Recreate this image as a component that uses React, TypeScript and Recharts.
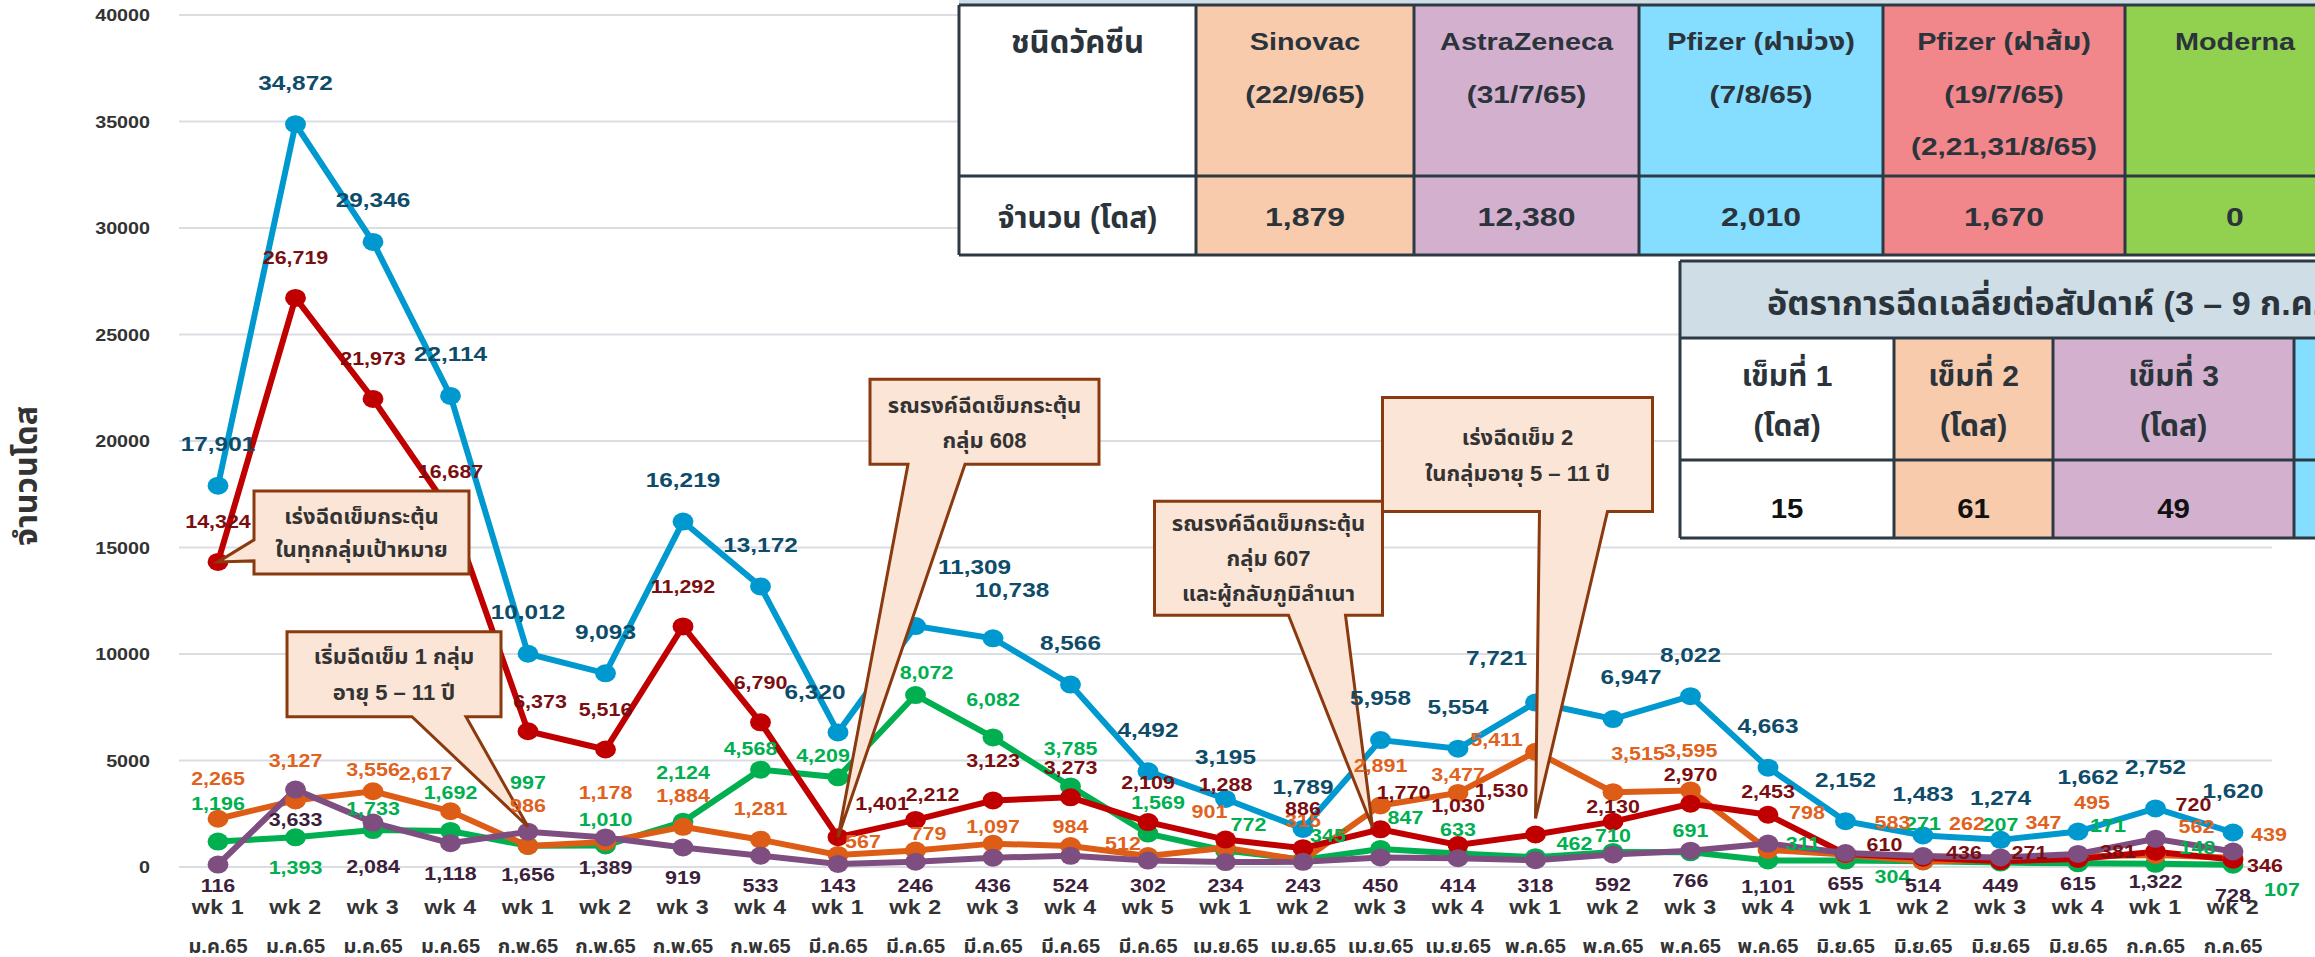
import React from "react";
import {
  LineChart,
  Line,
  XAxis,
  YAxis,
  CartesianGrid,
  LabelList,
  ReferenceDot,
  Label,
} from "recharts";

const W = 2315;
const H = 957;
const FONT = "'Liberation Sans', 'Noto Sans Thai', 'DejaVu Sans', sans-serif";
// the source picture is stretched sideways a little, so text and dots are too
const SX = 1.16;

// categories (week + month)
const weeks = [
  "wk 1", "wk 2", "wk 3", "wk 4",
  "wk 1", "wk 2", "wk 3", "wk 4",
  "wk 1", "wk 2", "wk 3", "wk 4", "wk 5",
  "wk 1", "wk 2", "wk 3", "wk 4",
  "wk 1", "wk 2", "wk 3", "wk 4",
  "wk 1", "wk 2", "wk 3", "wk 4",
  "wk 1", "wk 2",
];
const months = [
  "ม.ค.65", "ม.ค.65", "ม.ค.65", "ม.ค.65",
  "ก.พ.65", "ก.พ.65", "ก.พ.65", "ก.พ.65",
  "มี.ค.65", "มี.ค.65", "มี.ค.65", "มี.ค.65", "มี.ค.65",
  "เม.ย.65", "เม.ย.65", "เม.ย.65", "เม.ย.65",
  "พ.ค.65", "พ.ค.65", "พ.ค.65", "พ.ค.65",
  "มิ.ย.65", "มิ.ย.65", "มิ.ย.65", "มิ.ย.65",
  "ก.ค.65", "ก.ค.65",
];

// series values
const total = [17901, 34872, 29346, 22114, 10012, 9093, 16219, 13172, 6320, 11309, 10738, 8566, 4492, 3195, 1789, 5958, 5554, 7721, 6947, 8022, 4663, 2152, 1483, 1274, 1662, 2752, 1620];
const dose1 = [1196, 1393, 1733, 1692, 997, 1010, 2124, 4568, 4209, 8072, 6082, 3785, 1569, 772, 345, 847, 633, 462, 710, 691, 311, 304, 271, 207, 171, 148, 107];
const dose2 = [2265, 3127, 3556, 2617, 986, 1178, 1884, 1281, 567, 779, 1097, 984, 512, 901, 315, 2891, 3477, 5411, 3515, 3595, 798, 583, 262, 347, 495, 562, 439];
const dose3 = [14324, 26719, 21973, 16687, 6373, 5516, 11292, 6790, 1401, 2212, 3123, 3273, 2109, 1288, 886, 1770, 1030, 1530, 2130, 2970, 2453, 610, 436, 271, 381, 720, 346];
const dose4 = [116, 3633, 2084, 1118, 1656, 1389, 919, 533, 143, 246, 436, 524, 302, 234, 243, 450, 414, 318, 592, 766, 1101, 655, 514, 449, 615, 1322, 728];

const yTicks = [0, 5000, 10000, 15000, 20000, 25000, 30000, 35000, 40000];

// vaccine stock table
const vaccineHead = "ชนิดวัคซีน";
const vaccineRowHead = "จำนวน (โดส)";
const vaccineNames = ["Sinovac", "AstraZeneca", "Pfizer (ฝาม่วง)", "Pfizer (ฝาส้ม)", "Moderna"];
const vaccineDates = [["(22/9/65)"], ["(31/7/65)"], ["(7/8/65)"], ["(19/7/65)", "(2,21,31/8/65)"], []];
const vaccineDoses = [1879, 12380, 2010, 1670, 0];

// weekly rate table
const rateTitle = "อัตราการฉีดเฉลี่ยต่อสัปดาห์ (3 – 9 ก.ค. 65)";
const rateHeads = ["เข็มที่ 1", "เข็มที่ 2", "เข็มที่ 3", ""];
const rateValues = [15, 61, 49];

const data = weeks.map((w, i) => ({
  id: `${months[i]}|${w}`,
  total: total[i],
  dose1: dose1[i],
  dose2: dose2[i],
  dose3: dose3[i],
  dose4: dose4[i],
}));

const fmt = (v: number) => Number(v).toLocaleString("en-US");

const series = [
  { key: "total", line: "#0099CF", label: "#0E4C6A", size: 21, dy: -42 },
  { key: "dose1", line: "#00B050", label: "#00B050", size: 18.5, dy: -38 },
  { key: "dose2", line: "#DE5D16", label: "#E0621C", size: 18.5, dy: -40 },
  { key: "dose3", line: "#C00000", label: "#7A0E10", size: 18.5, dy: -40 },
  { key: "dose4", line: "#7E4E80", label: "#3C1F3B", size: 18.5, dy: 30 },
];

// label placement tweaks [dx, dy] relative to the point, as in the source
const nudges: Record<string, Record<number, [number, number]>> = {
  total: { 8: [-23, -41], 9: [59, -60], 10: [19, -49], 17: [-39, -45], 18: [18, -42], 24: [10, -55] },
  dose3: { 4: [12, -30], 8: [44, -34], 9: [17, -25], 11: [0, -30], 13: [0, -55], 15: [23, -37], 17: [-34, -44], 18: [0, -15], 19: [0, -29], 20: [0, -23], 21: [39, -9], 22: [41, -5], 23: [29, -9], 24: [40, -7], 25: [38, -47], 26: [32, 6] },
  dose2: { 2: [0, -22], 3: [-25, -38], 5: [0, -49], 6: [0, -31], 7: [0, -31], 8: [25, -13], 9: [13, -17], 10: [0, -17], 11: [0, -20], 12: [-25, -13], 13: [-16, -36], 16: [0, -18], 17: [-39, -12], 18: [25, -39], 20: [39, -37], 21: [47, -32], 22: [44, -38], 23: [43, -37], 24: [14, -54], 25: [41, -28], 26: [36, -23] },
  dose1: { 1: [0, 30], 2: [0, -22], 4: [0, -63], 5: [0, -26], 6: [0, -49], 7: [-10, -21], 8: [-15, -22], 9: [11, -23], 12: [10, -31], 13: [23, -26], 14: [25, -24], 15: [25, -31], 16: [0, -24], 17: [39, -14], 18: [0, -16], 19: [0, -22], 20: [35, -17], 21: [47, 16], 24: [30, -38], 25: [42, -16], 26: [49, 25] },
  dose4: { 2: [0, 44], 4: [0, 43], 20: [0, 43], 25: [0, 43], 26: [0, 44] },
};

const callouts = [
  { at: 0, values: dose3, lines: ["เร่งฉีดเข็มกระตุ้น", "ในทุกกลุ่มเป้าหมาย"], dx: 36, dy: -71, w: 215, h: 83, side: "left", base: [49, 70], first: 26, gap: 33, tipDx: 0, tipDy: 0 },
  { at: 4, values: dose4, lines: ["เริ่มฉีดเข็ม 1 กลุ่ม", "อายุ 5 – 11 ปี"], dx: -241, dy: -200, w: 214, h: 85, side: "bottom", base: [125, 179], first: 25, gap: 36, tipDx: 0, tipDy: -5 },
  { at: 8, values: dose3, lines: ["รณรงค์ฉีดเข็มกระตุ้น", "กลุ่ม 608"], dx: 32, dy: -458, w: 229, h: 85, side: "bottom", base: [38, 95], first: 26, gap: 35, tipDx: 0, tipDy: 0 },
  { at: 15, values: dose3, lines: ["รณรงค์ฉีดเข็มกระตุ้น", "กลุ่ม 607", "และผู้กลับภูมิลำเนา"], dx: -226, dy: -328, w: 228, h: 114, side: "bottom", base: [134, 191], first: 22, gap: 35, tipDx: -8, tipDy: -2 },
  { at: 17, values: dose3, lines: ["เร่งฉีดเข็ม 2", "ในกลุ่มอายุ 5 – 11 ปี"], dx: -153, dy: -437, w: 270, h: 114, side: "bottom", base: [157, 225], first: 40, gap: 36, tipDx: 0, tipDy: -16 },
];

// text drawn with a sideways stretch about its anchor point
const SText = ({ x, y, sx = SX, children, ...rest }: any) => (
  <text transform={`translate(${x} ${y}) scale(${sx} 1)`} x={0} y={0} fontFamily={FONT} {...rest}>
    {children}
  </text>
);

const XTick = (props: any) => {
  const { x, y, payload } = props;
  const [month, week] = String(payload.value).split("|");
  return (
    <g>
      <SText x={x} y={y + 40} textAnchor="middle" dominantBaseline="central" fontSize={20} fontWeight={700} fill="#333" letterSpacing={0.5}>
        {week}
      </SText>
      <SText x={x} y={y + 79} sx={1} textAnchor="middle" dominantBaseline="central" fontSize={20} fontWeight={700} fill="#333">
        {month}
      </SText>
    </g>
  );
};

const YTick = (props: any) => (
  <SText x={props.x} y={props.y} textAnchor="end" dominantBaseline="central" fontSize={17} fontWeight={700} fill="#333">
    {props.payload.value}
  </SText>
);

const makeLabel = (key: string, color: string, size: number, dy: number) => (p: any) => {
  const n = nudges[key][p.index];
  const x = n ? p.x + n[0] : p.x;
  const y = n ? p.y + n[1] : dy > 0 ? Math.min(p.y + dy, 886) : p.y + dy;
  return (
    <SText key={p.index} x={x} y={y} textAnchor="middle" dominantBaseline="central" fontSize={size} fontWeight={700} fill={color}>
      {fmt(p.value)}
    </SText>
  );
};

const makeDot = (color: string) => (p: any) => (
  <ellipse key={p.index} cx={p.cx} cy={p.cy} rx={9 * SX} ry={9} fill={color} />
);

const Callout = ({ cx, cy, spec }: any) => {
  const tx = cx + spec.tipDx;
  const ty = cy + spec.tipDy;
  const x0 = cx + spec.dx;
  const y0 = cy + spec.dy;
  const x1 = x0 + spec.w;
  const y1 = y0 + spec.h;
  const d =
    spec.side === "left"
      ? `M${x0},${y0} H${x1} V${y1} H${x0} V${y0 + spec.base[1]} L${tx},${ty} L${x0},${y0 + spec.base[0]} Z`
      : `M${x0},${y0} H${x1} V${y1} H${x0 + spec.base[1]} L${tx},${ty} L${x0 + spec.base[0]},${y1} H${x0} Z`;
  return (
    <g>
      <path d={d} fill="#FBE5D6" stroke="#8B3A10" strokeWidth={3} />
      {spec.lines.map((t: string, i: number) => (
        <text key={i} x={(x0 + x1) / 2} y={y0 + spec.first + i * spec.gap} textAnchor="middle" dominantBaseline="central" fontSize={22} fontWeight={700} fill="#333" fontFamily={FONT}>
          {t}
        </text>
      ))}
    </g>
  );
};

// simple bordered grid of cells for the overlay tables
const TableGrid = ({ xs, ys, fills }: { xs: number[]; ys: number[]; fills: string[][] }) => (
  <g>
    {ys.slice(0, -1).map((y, r) =>
      xs.slice(0, -1).map((x, c) => (
        <rect key={`${r}-${c}`} x={x} y={y} width={xs[c + 1] - x} height={ys[r + 1] - y} fill={fills[r][c]} />
      ))
    )}
    {xs.map((x, i) => (
      <line key={`v${i}`} x1={x} x2={x} y1={ys[0]} y2={ys[ys.length - 1]} stroke="#2D3A44" strokeWidth={3} />
    ))}
    {ys.map((y, i) => (
      <line key={`h${i}`} x1={xs[0]} x2={xs[xs.length - 1]} y1={y} y2={y} stroke="#2D3A44" strokeWidth={3} />
    ))}
  </g>
);

const Tables = () => {
  const t1x = [959, 1196, 1414, 1639, 1883, 2125, 2345];
  const t1y = [5, 176, 255];
  const t1fill = ["#FFFFFF", "#F8CBAD", "#D4B0CF", "#85DEFF", "#F1878A", "#92D050"];
  const t2x = [1680, 1894, 2053, 2294, 2500];
  const t2y = [338, 460, 538];
  const t2fill = ["#FFFFFF", "#F8CBAD", "#D4B0CF", "#85DEFF"];
  const txt = { fontWeight: 700, textAnchor: "middle" as const, dominantBaseline: "central" as const, fill: "#2B333B" };
  const mid = (a: number[], i: number) => (a[i] + a[i + 1]) / 2;
  return (
    <svg width={W} height={H} style={{ position: "absolute", left: 0, top: 0, pointerEvents: "none" }}>
      {/* vaccine table */}
      <rect x={959} y={-20} width={1400} height={25} fill="#CFDDE6" />
      <TableGrid xs={t1x} ys={t1y} fills={[t1fill, t1fill]} />
      <SText {...txt} sx={1} x={mid(t1x, 0)} y={42} fontSize={31}>{vaccineHead}</SText>
      <SText {...txt} sx={1} x={mid(t1x, 0)} y={217} fontSize={30}>{vaccineRowHead}</SText>
      {vaccineNames.map((n, i) => (
        <g key={n}>
          <SText {...txt} sx={1.2} x={mid(t1x, i + 1)} y={42} fontSize={24}>{n}</SText>
          {vaccineDates[i].map((d, j) => (
            <SText key={d} {...txt} sx={1.3} x={mid(t1x, i + 1)} y={95 + j * 52} fontSize={23}>{d}</SText>
          ))}
          <SText {...txt} sx={1.28} x={mid(t1x, i + 1)} y={217} fontSize={25}>{fmt(vaccineDoses[i])}</SText>
        </g>
      ))}

      {/* weekly rate table */}
      <rect x={1680} y={261} width={820} height={77} fill="#CFDDE6" />
      <line x1={1680} x2={2500} y1={261} y2={261} stroke="#2D3A44" strokeWidth={3} />
      <line x1={1680} x2={1680} y1={261} y2={338} stroke="#2D3A44" strokeWidth={3} />
      <SText x={1767} y={303} sx={1} fontWeight={700} fontSize={34} fill="#2B333B" dominantBaseline="central">{rateTitle}</SText>
      <TableGrid xs={t2x} ys={t2y} fills={[t2fill, t2fill]} />
      {rateHeads.map((h, i) =>
        h ? (
          <g key={i}>
            <SText {...txt} sx={1} x={mid(t2x, i)} y={375} fontSize={30}>{h}</SText>
            <SText {...txt} sx={1} x={mid(t2x, i)} y={425} fontSize={30}>(โดส)</SText>
          </g>
        ) : null
      )}
      {rateValues.map((v, i) => (
        <SText key={i} {...txt} sx={1.05} x={mid(t2x, i)} y={508} fontSize={28} fill="#111">{fmt(v)}</SText>
      ))}
    </svg>
  );
};

export default function App() {
  return (
    <div style={{ position: "absolute", left: 0, top: 0, width: W, height: H, overflow: "hidden", background: "#fff" }}>
      <LineChart width={W} height={H} data={data} margin={{ top: 15, right: 43, left: 0, bottom: 0 }}>
        <CartesianGrid vertical={false} stroke="#DADEE3" strokeWidth={2} />
        <XAxis
          dataKey="id"
          interval={0}
          height={90}
          padding={{ left: 39, right: 39 }}
          tickLine={false}
          axisLine={false}
          tickSize={0}
          tickMargin={0}
          tick={<XTick />}
        />
        <YAxis domain={[0, 40000]} ticks={yTicks} width={179} tickLine={false} axisLine={false} tickSize={0} tickMargin={29} tick={<YTick />}>
          <Label
            content={() => (
              <text x={26} y={476} transform="rotate(-90 26 476)" textAnchor="middle" dominantBaseline="central" fontSize={32} fontWeight={700} fill="#333" fontFamily={FONT}>
                จำนวนโดส
              </text>
            )}
          />
        </YAxis>
        {series.map((s) => (
          <Line
            key={s.key}
            type="linear"
            dataKey={s.key}
            stroke={s.line}
            strokeWidth={6}
            dot={makeDot(s.line)}
            activeDot={false}
            isAnimationActive={false}
          >
            <LabelList dataKey={s.key} content={makeLabel(s.key, s.label, s.size, s.dy)} />
          </Line>
        ))}
        {callouts.map((c, i) => (
          <ReferenceDot
            key={i}
            x={data[c.at].id}
            y={c.values[c.at]}
            r={0}
            ifOverflow="visible"
            zIndex={1500}
            shape={(p: any) => <Callout cx={p.cx} cy={p.cy} spec={c} />}
          />
        ))}
      </LineChart>
      <Tables />
    </div>
  );
}
